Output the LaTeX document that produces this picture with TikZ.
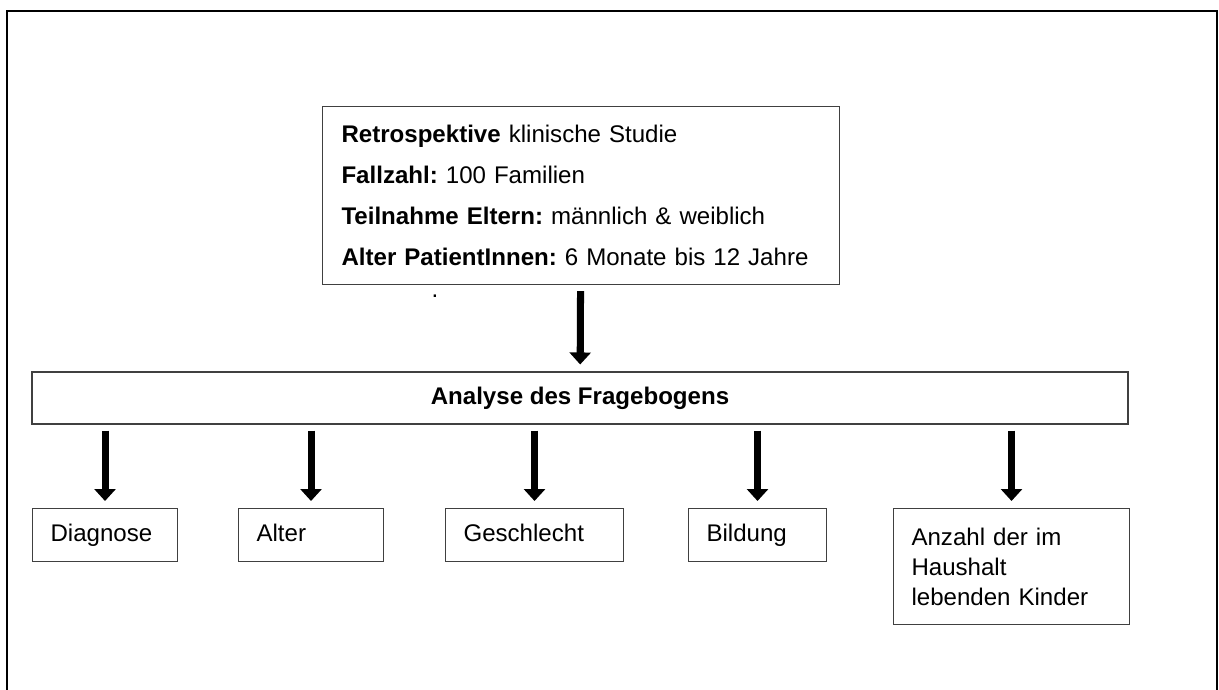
\documentclass[tikz,border=0pt]{standalone}
\usepackage{fontspec}
\setmainfont{Liberation Sans}
\usepackage{tikz}
\usetikzlibrary{arrows.meta, positioning}
\usepackage{xcolor}
\definecolor{boxGray}{HTML}{404040}
\frenchspacing

\begin{document}
\begin{tikzpicture}[font=\fontsize{13.7}{17}\selectfont,
    field/.style={draw=boxGray, line width=0.6pt, anchor=north west,
      align=left, inner xsep=0.36cm, minimum height=1.06cm},
    onefield/.style={field, text height=2.1ex, text depth=0.7ex},
    flow/.style={line width=4pt, -{Triangle[width=0.42cm, length=0.24cm]},
      shorten <=0.12cm, shorten >=0.14cm}]
    \useasboundingbox (0,0) rectangle (24.38,-13.8);
    % outer frame, open at the bottom
    \draw[line width=1.2pt] (0.14,-13.8) |- (24.34,-0.22) -- (24.34,-13.8);

    \node[field, text width=9.58cm, inner xsep=0.38cm, minimum height=3.56cm,
      font=\fontsize{13.7}{23.2}\selectfont] (study) at (6.44,-2.12)
      {\textbf{Retrospektive} klinische Studie\\
       \textbf{Fallzahl:} 100 Familien\\
       \textbf{Teilnahme Eltern:} männlich \& weiblich\\
       \textbf{Alter PatientInnen:} 6 Monate bis 12 Jahre};
    \node (stray) at (8.7,-5.92) {.};

    \node[draw=boxGray, line width=0.6pt, minimum width=21.92cm,
      minimum height=1.04cm] (analyse) at (11.6,-7.96)
      {\textbf{Analyse des Fragebogens}};

    \node[onefield, text width=2.18cm] (diagnose) at (0.64,-10.16) {Diagnose};
    \node[onefield, text width=2.18cm] (alter) at (4.76,-10.16) {Alter};
    \node[onefield, text width=2.84cm] (geschlecht) at (8.9,-10.16) {Geschlecht};
    \node[onefield, text width=2.04cm] (bildung) at (13.76,-10.16) {Bildung};
    \node[field, text width=4.0cm, minimum height=2.32cm] (anzahl) at (17.86,-10.16)
      {Anzahl der im\\ Haushalt\\ lebenden Kinder};

    \draw[flow] (study) -- (analyse);
    \foreach \n in {diagnose, alter, geschlecht, bildung, anzahl}
      \draw[flow] (\n.north |- analyse.south) -- (\n.north);
  \end{tikzpicture}
\end{document}
